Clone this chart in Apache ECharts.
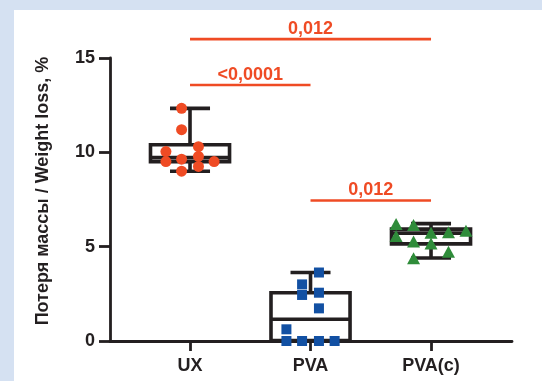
<!DOCTYPE html>
<html>
<head>
<meta charset="utf-8">
<script src="https://cdn.jsdelivr.net/npm/echarts@6/dist/echarts.min.js"></script>
<style>
html,body{margin:0;padding:0;width:542px;height:381px;overflow:hidden;background:#d5e1f2;}
#panel{position:absolute;left:14px;top:10px;width:528px;height:371px;background:#ffffff;}
#chart{position:absolute;left:0;top:0;width:542px;height:381px;}
</style>
</head>
<body>
<div id="panel"></div>
<div id="chart"></div>
<script>
// ---- data ----
const categories = ['UX', 'PVA', 'PVA(c)'];
const yTicks = [0, 5, 10, 15];

const uxValues   = [12.33, 11.2, 10.3, 10.04, 9.51, 9.64, 9.78, 9.25, 9.51, 9.0];
const uxJitter   = [-0.07, -0.07, 0.07, -0.2, -0.2, -0.07, 0.07, 0.07, 0.2, -0.07];
const pvaValues  = [3.63, 3.0, 2.44, 2.56, 1.73, 0.62, 0, 0, 0, 0];
const pvaJitter  = [0.07, -0.07, -0.07, 0.07, 0.07, -0.2, -0.2, -0.07, 0.07, 0.2];
const pvacValues = [6.2, 6.15, 5.74, 5.76, 5.85, 5.56, 5.27, 5.17, 4.73, 4.38];
const pvacJitter = [-0.29, -0.145, 0, 0.145, 0.29, -0.29, -0.145, 0, 0.145, -0.145];

// box stats: [min, Q1, median, Q3, max]
const uxBox   = [9.0, 9.51, 9.72, 10.4, 12.33];
const pvaBox  = [0, 0.02, 1.15, 2.56, 3.63];
const pvacBox = [4.4, 5.15, 5.72, 5.93, 6.22];

// significance brackets
const sigFrom  = [0, 0, 1];
const sigTo    = [2, 1, 2];
const sigLevel = [16.0, 13.57, 7.45];
const sigLabel = ['0,012', '<0,0001', '0,012'];

// ---- styles ----
const INK = '#231f20';
const RED = '#ef4b24';
const BLUE = '#1250a3';
const GREEN = '#2f8c3a';
const FONT = '"Liberation Sans", Arial, sans-serif';

const boxes = [uxBox, pvaBox, pvacBox];
const boxData = boxes.map((b, i) => [i].concat(b));

function pts(vals, jit, idx) { return vals.map((v, k) => [idx + jit[k], v]); }

const chart = echarts.init(document.getElementById('chart'), null, {renderer: 'canvas'});

const BOX_HALF = 0.328, CAP_HALF = 0.166, LW = 3.6;

const option = {
  animation: false,
  backgroundColor: 'transparent',
  grid: {left: 110, right: 30, top: 58, bottom: 40, containLabel: false},
  xAxis: {
    type: 'value', min: -0.664, max: 2.672,
    splitLine: {show: false},
    axisLine: {show: true, onZero: false, lineStyle: {color: INK, width: 2.8}},
    axisTick: {show: true, customValues: [0, 1, 2], length: 10, lineStyle: {color: INK, width: 2.8}},
    axisLabel: {customValues: [0, 1, 2], formatter: v => categories[Math.round(v)] || '',
      color: INK, fontFamily: FONT, fontWeight: 'bold', fontSize: 18, margin: 16}
  },
  yAxis: {
    type: 'value', min: 0, max: 15, interval: 5,
    splitLine: {show: false},
    axisLine: {show: true, onZero: false, lineStyle: {color: INK, width: 2.8}},
    axisTick: {show: true, length: 11, lineStyle: {color: INK, width: 2.8}},
    axisLabel: {color: INK, fontFamily: FONT, fontWeight: 'bold', fontSize: 18, margin: 15,
      formatter: v => (yTicks.indexOf(v) >= 0 ? String(v) : '')}
  },
  graphic: [{
    type: 'text', x: 43, y: 191, rotation: Math.PI / 2,
    style: {text: 'Потеря массы / Weight loss, %', fill: INK, font: 'bold 18px ' + FONT,
      align: 'center', verticalAlign: 'middle'}
  }],
  series: [
    {
      type: 'custom', z: 2, clip: false,
      data: boxData,
      encode: {x: 0, y: [1, 2, 3, 4, 5]},
      renderItem: function (params, api) {
        const x = api.value(0);
        const mn = api.value(1), q1 = api.value(2), md = api.value(3), q3 = api.value(4), mx = api.value(5);
        const L = api.coord([x - BOX_HALF, 0])[0], R = api.coord([x + BOX_HALF, 0])[0];
        const cL = api.coord([x - CAP_HALF, 0])[0], cR = api.coord([x + CAP_HALF, 0])[0];
        const cx = api.coord([x, 0])[0];
        const yMin = api.coord([x, mn])[1], yQ1 = api.coord([x, q1])[1], yMd = api.coord([x, md])[1],
              yQ3 = api.coord([x, q3])[1], yMax = api.coord([x, mx])[1];
        const st = {stroke: INK, lineWidth: LW, fill: null};
        return {type: 'group', children: [
          {type: 'line', shape: {x1: cx, y1: yQ3, x2: cx, y2: yMax}, style: st},
          {type: 'line', shape: {x1: cx, y1: yQ1, x2: cx, y2: yMin}, style: st},
          {type: 'line', shape: {x1: cL, y1: yMax, x2: cR, y2: yMax}, style: st},
          {type: 'line', shape: {x1: cL, y1: yMin, x2: cR, y2: yMin}, style: st},
          {type: 'rect', shape: {x: L, y: yQ3, width: R - L, height: yQ1 - yQ3},
            style: {stroke: INK, lineWidth: LW, fill: '#ffffff'}},
          {type: 'line', shape: {x1: L, y1: yMd, x2: R, y2: yMd}, style: st}
        ]};
      }
    },
    {type: 'scatter', z: 3, symbol: 'circle', symbolSize: 11, itemStyle: {color: RED, opacity: 1},
      data: pts(uxValues, uxJitter, 0)},
    {type: 'scatter', z: 3, symbol: 'rect', symbolSize: 10, itemStyle: {color: BLUE, opacity: 1},
      data: pts(pvaValues, pvaJitter, 1)},
    {type: 'scatter', z: 3, symbol: 'triangle', symbolSize: [13, 12], itemStyle: {color: GREEN, opacity: 1},
      data: pts(pvacValues, pvacJitter, 2)},
    {
      type: 'custom', z: 4, clip: false,
      data: sigLevel.map((lv, i) => [sigFrom[i], sigTo[i], lv, i]),
      encode: {x: [0, 1], y: 2},
      renderItem: function (params, api) {
        const p1 = api.coord([api.value(0), api.value(2)]);
        const p2 = api.coord([api.value(1), api.value(2)]);
        const i = api.value(3);
        return {type: 'group', children: [
          {type: 'line', shape: {x1: p1[0], y1: p1[1], x2: p2[0], y2: p2[1]},
            style: {stroke: RED, lineWidth: 2.6}},
          {type: 'text', x: (p1[0] + p2[0]) / 2, y: p1[1] - 1,
            style: {text: sigLabel[i], fill: RED, font: 'bold 18px ' + FONT, align: 'center', verticalAlign: 'bottom'}}
        ]};
      }
    }
  ]
};
chart.setOption(option);
</script>
</body>
</html>
